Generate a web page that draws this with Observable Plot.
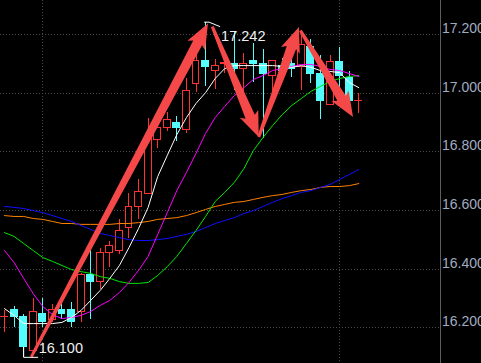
<!DOCTYPE html>
<html><head><meta charset="utf-8">
<script src="https://cdn.jsdelivr.net/npm/d3@7"></script>
<script src="https://cdn.jsdelivr.net/npm/@observablehq/plot@0.6"></script>
<style>
html,body{margin:0;padding:0;background:#000;overflow:hidden;}
#chart svg{display:block;}
</style></head><body><div id="chart"></div>
<script>
// Daily candles (index 0..37), prices
const open  = [16.236,16.260,16.239,16.123,16.246,16.226,16.260,16.260,16.253,16.382,16.358,16.454,16.461,16.542,16.611,16.658,16.842,16.883,16.897,16.876,17.030,17.111,17.077,17.101,17.101,17.084,17.111,17.098,17.060,17.091,17.101,17.088,17.159,17.064,16.961,17.105,17.053,16.972];
const high  = [16.260,16.273,16.246,16.300,16.300,16.280,16.290,16.287,16.386,16.464,16.471,16.495,16.570,16.658,16.706,16.914,16.924,16.934,16.921,17.050,17.145,17.242,17.115,17.135,17.210,17.135,17.169,17.149,17.111,17.118,17.118,17.214,17.183,17.128,17.128,17.156,17.074,16.999];
const low   = [16.185,16.202,16.100,16.113,16.202,16.219,16.229,16.202,16.219,16.229,16.331,16.406,16.450,16.505,16.570,16.655,16.812,16.870,16.835,16.863,17.002,17.023,17.013,17.067,17.009,16.999,17.036,16.846,17.002,17.050,17.053,17.009,17.033,16.910,16.958,17.009,16.972,16.931];
const close = [16.239,16.239,16.134,16.253,16.219,16.260,16.249,16.219,16.379,16.358,16.457,16.478,16.529,16.611,16.665,16.852,16.883,16.910,16.883,17.006,17.108,17.088,17.094,17.104,17.081,17.101,17.101,17.067,17.108,17.077,17.084,17.163,17.064,16.972,17.105,17.057,16.975,16.975];

// Moving averages
const ma5   = [16.266,16.243,16.215,16.215,16.215,16.215,16.219,16.236,16.260,16.294,16.328,16.369,16.413,16.474,16.539,16.611,16.716,16.788,16.859,16.917,16.965,17.002,17.050,17.084,17.094,17.094,17.094,17.094,17.094,17.091,17.088,17.094,17.088,17.077,17.074,17.070,17.036,17.019];
const ma10  = [16.464,16.423,16.369,16.317,16.273,16.246,16.232,16.236,16.243,16.256,16.277,16.294,16.321,16.355,16.396,16.444,16.519,16.593,16.668,16.730,16.795,16.863,16.917,16.955,16.992,17.019,17.047,17.060,17.077,17.084,17.091,17.098,17.098,17.091,17.081,17.077,17.067,17.057];
const ma20  = [16.525,16.512,16.488,16.464,16.440,16.427,16.413,16.399,16.392,16.386,16.375,16.369,16.358,16.352,16.352,16.355,16.379,16.409,16.444,16.488,16.532,16.580,16.631,16.662,16.696,16.743,16.805,16.849,16.890,16.927,16.958,16.982,17.006,17.023,17.040,17.050,17.057,17.060];
const ma60  = [16.614,16.611,16.607,16.600,16.593,16.583,16.573,16.563,16.549,16.536,16.522,16.515,16.508,16.501,16.498,16.498,16.501,16.505,16.512,16.519,16.529,16.542,16.556,16.566,16.576,16.590,16.600,16.614,16.628,16.641,16.651,16.662,16.668,16.679,16.689,16.706,16.723,16.740];
const ma120 = [16.583,16.580,16.580,16.573,16.570,16.563,16.556,16.556,16.553,16.553,16.553,16.553,16.556,16.556,16.559,16.563,16.570,16.573,16.576,16.583,16.593,16.604,16.614,16.621,16.628,16.631,16.638,16.645,16.651,16.655,16.662,16.668,16.672,16.679,16.682,16.682,16.685,16.692];

// Axis ticks and period separators (candle index)
const yTicks = [16.2, 16.4, 16.6, 16.8, 17.0, 17.2];
const periodLines = [4, 35];

// Annotations: extremes and drawn arrows (index, price)
const lowIndex = 2, lowValue = 16.100;
const highIndex = 21, highValue = 17.242;
const arrowFromI = [2.85, 21.75, 26.6, 30.95];
const arrowFromP = [16.100, 17.225, 16.849, 17.212];
const arrowToI   = [21.3, 26.6, 30.8, 36.45];
const arrowToP   = [17.236, 16.849, 17.224, 16.917];

const RED = "#ff3232", CYAN = "#54fcfc", ARROW = "#f54848";
const FONT = "'Liberation Sans Narrow', 'Liberation Sans', Arial, sans-serif";

const idx = d3.range(close.length);
const bars = idx.map(i => ({i, o: open[i], h: high[i], l: low[i], c: close[i], up: close[i] >= open[i]}));

const maSeries = [
  {v: ma120, color: "#ff8000"},
  {v: ma60, color: "#1010ff"},
  {v: ma20, color: "#00e800"},
  {v: ma10, color: "#ff00ff"},
  {v: ma5, color: "#ffffff"}
];

function arrowMark(index, scales) {
  const g = d3.create("svg:g");
  for (let k = 0; k < arrowFromI.length; k++) {
    const x0 = scales.x(arrowFromI[k]), y0 = scales.y(arrowFromP[k]);
    const x1 = scales.x(arrowToI[k]), y1 = scales.y(arrowToP[k]);
    const dx = x1 - x0, dy = y1 - y0, L = Math.hypot(dx, dy);
    const ux = dx / L, uy = dy / L, nx = -uy, ny = ux;
    const hl = 22, hw = 10, nw = 5, tw = 1.5;
    const bx = x1 - ux * hl, by = y1 - uy * hl;
    const pts = [
      [x0 + nx * tw, y0 + ny * tw],
      [bx + nx * nw, by + ny * nw],
      [bx + nx * hw - ux * 3, by + ny * hw - uy * 3],
      [x1, y1],
      [bx - nx * hw - ux * 3, by - ny * hw - uy * 3],
      [bx - nx * nw, by - ny * nw],
      [x0 - nx * tw, y0 - ny * tw]
    ];
    g.append("path").attr("d", "M" + pts.map(p => p.join(",")).join("L") + "Z").attr("fill", ARROW);
  }
  return g.node();
}

function markerMark(index, scales) {
  const g = d3.create("svg:g").attr("fill", "none").attr("stroke", "#ffffff").attr("stroke-width", 1);
  const hx = scales.x(highIndex), hy = scales.y(highValue);
  g.append("path").attr("d", `M${hx - 1},${hy + 0.5}H${hx + 4}L${hx + 15},${hy + 5}`);
  const lx = scales.x(lowIndex), ly = scales.y(lowValue);
  g.append("path").attr("d", `M${lx + 0.5},${scales.y(close[lowIndex])}V${ly + 0.5}H${lx + 15}`);
  return g.node();
}

const chart = Plot.plot({
  width: 481,
  height: 363,
  marginLeft: 0,
  marginRight: 41,
  marginTop: 0,
  marginBottom: 0,
  style: {background: "#000", fontFamily: FONT, overflow: "visible"},
  x: {type: "linear", domain: [-0.4177, 45.53], axis: null},
  y: {domain: [16.079, 17.3158], axis: null},
  marks: [
    Plot.ruleY(yTicks, {stroke: "#4a4a4a", strokeDasharray: "1,2", shapeRendering: "crispEdges"}),
    Plot.ruleX(periodLines, {stroke: "#4a4a4a", strokeDasharray: "1,2", shapeRendering: "crispEdges"}),
    Plot.ruleX([45.53], {stroke: "#5e5e5e", shapeRendering: "crispEdges"}),
    Plot.axisY(yTicks, {anchor: "right", tickSize: 0, tickPadding: 1.5, tickFormat: d3.format(".3f"), label: null, dy: -6, fill: "#a0acc0", fontSize: 14, fontFamily: FONT}),
    Plot.ruleX(bars, {x: "i", y1: "l", y2: "h", stroke: d => d.up ? RED : CYAN, shapeRendering: "crispEdges"}),
    Plot.rect(bars, {
      x1: d => d.i - 0.36, x2: d => d.i + 0.36,
      y1: d => Math.min(d.o, d.c), y2: d => Math.max(d.o, d.c),
      fill: d => d.up ? "#000" : CYAN,
      stroke: d => d.up ? RED : CYAN,
      shapeRendering: "crispEdges"
    }),
    ...maSeries.map(s => Plot.line(idx, {x: i => i, y: i => s.v[i], stroke: s.color, strokeWidth: 1})),
    arrowMark,
    markerMark,
    Plot.text([lowValue], {x: lowIndex, y: d => d, text: d => d3.format(".3f")(d), textAnchor: "start", lineAnchor: "bottom", dx: 15, dy: -4, fill: "#f0f0f0", fontSize: 14.5, fontFamily: FONT}),
    Plot.text([highValue], {x: highIndex, y: d => d, text: d => d3.format(".3f")(d), textAnchor: "start", lineAnchor: "bottom", dx: 15.5, dy: 19, fill: "#f0f0f0", fontSize: 14.5, fontFamily: FONT})
  ]
});
document.getElementById("chart").appendChild(chart);
</script>
</body></html>
